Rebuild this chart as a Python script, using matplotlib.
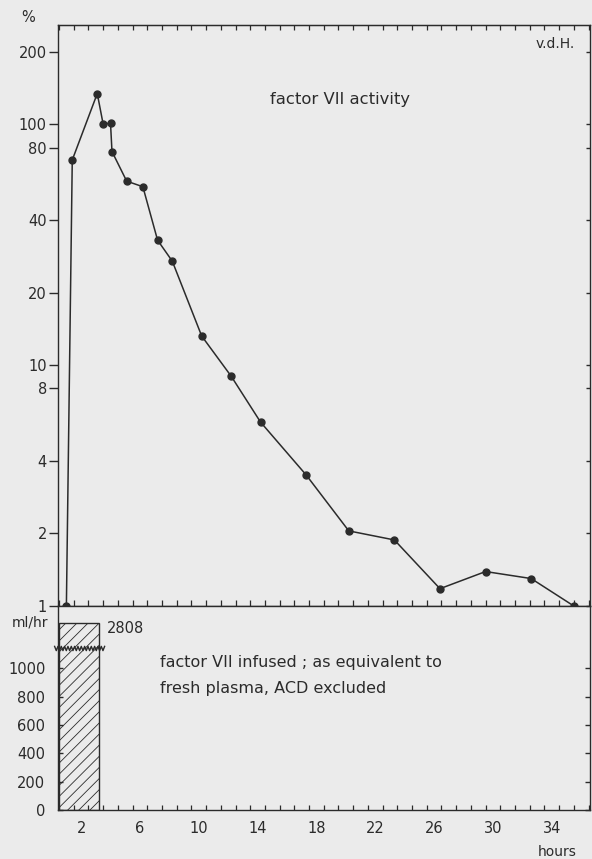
import numpy as np
import matplotlib.pyplot as plt
from matplotlib.ticker import FixedLocator, NullLocator

# factor VII activity (%) vs hours
hours = [1.0, 1.4, 3.1, 3.5, 4.0, 4.1, 5.1, 6.2, 7.2, 8.2, 10.2, 12.2, 14.2,
         17.3, 20.2, 23.3, 26.4, 29.5, 32.6, 35.5]
activity = [1, 71, 134, 100, 101, 77, 58, 55, 33, 27, 13.2, 9.0, 5.8,
            3.5, 2.05, 1.88, 1.18, 1.39, 1.30, 1.0]

# infusion (ml/hr)
infusion_start = 0.5
infusion_end = 3.2
infusion_rate = 2808

act_ticks = [1, 2, 4, 8, 10, 20, 40, 80, 100, 200]
rate_ticks = [0, 200, 400, 600, 800, 1000]
hour_labels = [2, 6, 10, 14, 18, 22, 26, 30, 34]

BG = '#ebebeb'
INK = '#2b2b2b'
XMIN, XMAX = 0.43, 36.6
RATE_TOP = 1440      # visible top of the rate axis
BREAK_TOP = 1320     # drawn height of the broken bar
BREAK_Y = 1140       # zigzag position

plt.rcParams['hatch.linewidth'] = 0.6
plt.rcParams['hatch.color'] = '#555555'
plt.rcParams['font.size'] = 10

fig = plt.figure(figsize=(5.92, 8.59), dpi=100, facecolor=BG)
W, H = 592, 859
left, right = 58 / W, 590 / W
y_top, y_mid, y_bot = 1 - 25 / H, 1 - 606 / H, 1 - 810 / H

ax1 = fig.add_axes([left, y_mid, right - left, y_top - y_mid])
ax2 = fig.add_axes([left, y_bot, right - left, y_mid - y_bot])
for ax in (ax1, ax2):
    ax.set_facecolor(BG)
    for s in ax.spines.values():
        s.set_color(INK)
        s.set_linewidth(1.0)
    ax.set_xlim(XMIN, XMAX)
    ax.xaxis.set_minor_locator(FixedLocator(np.arange(0.5, 37, 1.0)))

# ---- top panel: activity
ax1.set_yscale('log')
ax1.set_ylim(1, 258)
ax1.plot(hours, activity, color=INK, lw=1.1, marker='o', ms=5,
         mfc=INK, mec=INK, clip_on=False, zorder=3)
ax1.yaxis.set_major_locator(FixedLocator(act_ticks))
ax1.yaxis.set_minor_locator(NullLocator())
ax1.set_yticklabels([str(t) for t in act_ticks])
ax1.tick_params(axis='y', which='major', direction='out', length=6.5,
                width=1.0, color=INK, labelcolor=INK, labelsize=10.5, pad=1.5)
ax1.xaxis.set_major_locator(NullLocator())
ax1.tick_params(axis='x', which='minor', direction='inout', length=8.5,
                width=0.9, color=INK, top=False, bottom=True)

ax1r = ax1.twinx()
ax1r.set_yscale('log')
ax1r.set_ylim(1, 258)
ax1r.yaxis.set_major_locator(FixedLocator(act_ticks))
ax1r.yaxis.set_minor_locator(NullLocator())
ax1r.tick_params(axis='y', which='major', direction='in', length=3,
                 width=1.0, color=INK, labelright=False)
for s in ax1r.spines.values():
    s.set_visible(False)

ax1t = ax1.secondary_xaxis('top')
ax1t.xaxis.set_major_locator(NullLocator())
ax1t.xaxis.set_minor_locator(FixedLocator(np.arange(0.5, 37, 1.0)))
ax1t.tick_params(axis='x', which='minor', direction='in', length=3.5,
                 width=0.9, color=INK)
ax1t.spines['top'].set_color(INK)

ax1.text(0.398, 0.872, 'factor VII activity', transform=ax1.transAxes,
         color=INK, fontsize=11.8, va='center', ha='left')
ax1.text(0.897, 0.968, 'v.d.H.', transform=ax1.transAxes,
         color=INK, fontsize=10, va='center', ha='left')
fig.text(28 / W, 1 - 17 / H, '%', color=INK, fontsize=10.5,
         ha='center', va='center')

# ---- bottom panel: infusion
ax2.set_ylim(0, RATE_TOP)
ax2.bar(infusion_start, min(infusion_rate, BREAK_TOP),
        width=infusion_end - infusion_start, align='edge',
        facecolor='none', edgecolor=INK, lw=1.0, hatch='///', zorder=2)
zx = np.linspace(infusion_start - 0.3, infusion_end + 0.4, 31)
zy = BREAK_Y + np.where(np.arange(len(zx)) % 2 == 0, 15, -15)
ax2.plot(zx, zy, color=INK, lw=1.0, clip_on=False, zorder=4)
ax2.text(infusion_end + 0.55, BREAK_TOP - 40, str(infusion_rate),
         color=INK, fontsize=10.5, va='center', ha='left')

ax2.yaxis.set_major_locator(FixedLocator(rate_ticks))
ax2.set_yticklabels([str(t) for t in rate_ticks])
ax2.tick_params(axis='y', which='major', direction='in', length=3.5,
                width=1.0, color=INK, labelcolor=INK, labelsize=10.5,
                left=True, right=True, pad=9)
ax2.xaxis.set_major_locator(FixedLocator(hour_labels))
ax2.set_xticklabels([str(t) for t in hour_labels])
ax2.tick_params(axis='x', which='major', length=0, labelcolor=INK,
                labelsize=10.5, pad=8)
ax2.tick_params(axis='x', which='minor', direction='in', length=3.5,
                width=0.9, color=INK)

ax2.text(0.192, 0.725, 'factor VII infused ; as equivalent to',
         transform=ax2.transAxes, color=INK, fontsize=11.5, va='center')
ax2.text(0.192, 0.598, 'fresh plasma, ACD excluded',
         transform=ax2.transAxes, color=INK, fontsize=11.5, va='center')
fig.text(30 / W, 1 - 623 / H, 'ml/hr', color=INK, fontsize=10,
         ha='center', va='center')
fig.text(557 / W, 1 - 852 / H, 'hours', color=INK, fontsize=10,
         ha='center', va='center')

fig.savefig('out.png', dpi=100, facecolor=BG)
